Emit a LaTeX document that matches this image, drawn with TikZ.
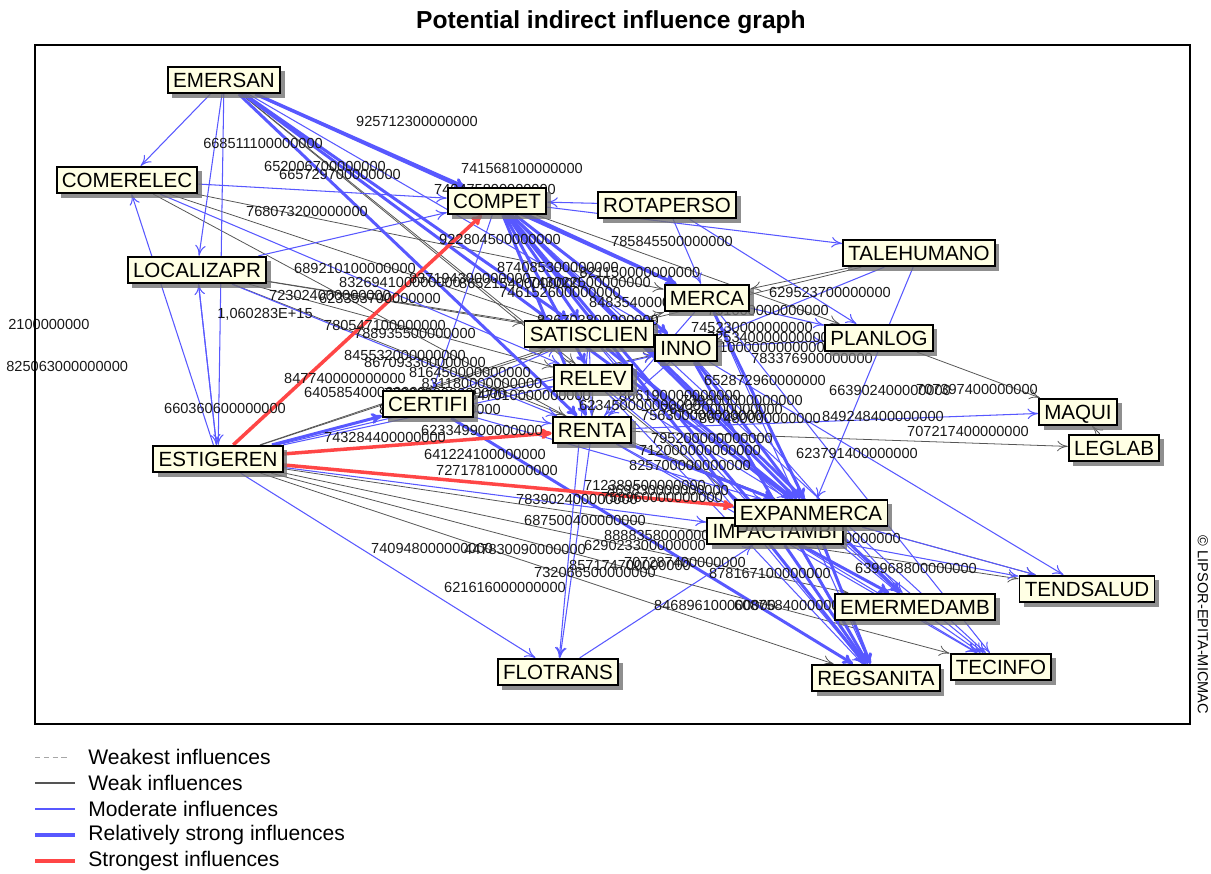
\documentclass[tikz,border=0pt]{standalone}
\usepackage{fontspec}
\setmainfont{Liberation Sans}
\usetikzlibrary{arrows.meta,shadows}
\definecolor{cream}{RGB}{255,255,228}
\definecolor{modblue}{RGB}{88,88,255}
\definecolor{weakgray}{RGB}{85,85,85}
\definecolor{topred}{RGB}{255,70,70}
\newcommand\vfnt{\fontsize{11.7}{13}\selectfont}
\newcommand\numfnt{\fontsize{8.3}{9}\selectfont}
\pgfdeclarelayer{edges}
\pgfdeclarelayer{labels}
\pgfsetlayers{edges,labels,main}
\tikzset{
  vnode/.style={draw=black, line width=1.1pt, fill=cream, inner xsep=3pt, inner ysep=3pt,
    text height=8.6pt, text depth=0.4pt, font=\vfnt,
    drop shadow={shadow xshift=2.6pt, shadow yshift=-2.6pt, fill=black!55, opacity=0.8}},
  num/.style={font=\numfnt, inner sep=0pt, text=black!90},
  tip/.style={-{To[length=6pt,width=6pt]}},
  weak/.style={tip, draw=weakgray, line width=0.45pt},
  mod/.style={tip, draw=modblue, line width=0.6pt},
  strong/.style={tip, draw=modblue, line width=1.7pt},
  top/.style={tip, draw=topred, line width=2pt},
}
\begin{document}
\begin{tikzpicture}[x=0.02cm, y=-0.02cm]
\useasboundingbox (0,0) rectangle (1211,874);

% title and frame
\node[font=\bfseries\fontsize{14}{16}\selectfont] (title) at (611,22) {Potential indirect influence graph};
\draw[line width=1.1pt, black] (35,45) rectangle (1190,724);
\node[rotate=-90, font=\fontsize{8.3}{9}\selectfont] (copy) at (1203,625) {© LIPSOR-EPITA-MICMAC};

% variables
\node[vnode] (EMERSAN)    at (224,80)  {EMERSAN};
\node[vnode] (COMERELEC)  at (127,180) {COMERELEC};
\node[vnode] (LOCALIZAPR) at (197,270) {LOCALIZAPR};
\node[vnode] (COMPET)     at (497,201) {COMPET};
\node[vnode] (ROTAPERSO)  at (667,205) {ROTAPERSO};
\node[vnode] (TALEHUMANO) at (919,253) {TALEHUMANO};
\node[vnode] (MERCA)      at (707,298) {MERCA};
\node[vnode] (SATISCLIEN) at (589,334) {SATISCLIEN};
\node[vnode] (INNO)       at (686,348) {INNO};
\node[vnode] (PLANLOG)    at (879,338) {PLANLOG};
\node[vnode] (RELEV)      at (593,378) {RELEV};
\node[vnode] (CERTIFI)    at (428,404) {CERTIFI};
\node[vnode] (RENTA)      at (592,430) {RENTA};
\node[vnode] (ESTIGEREN)  at (218,459) {ESTIGEREN};
\node[vnode] (MAQUI)      at (1078,412) {MAQUI};
\node[vnode] (LEGLAB)     at (1114,448) {LEGLAB};
\node[vnode] (IMPACTAMBI) at (775,531) {IMPACTAMBI};
\node[vnode] (EXPANMERCA) at (811,513) {EXPANMERCA};
\node[vnode] (TENDSALUD)  at (1087,589) {TENDSALUD};
\node[vnode] (EMERMEDAMB) at (915,607) {EMERMEDAMB};
\node[vnode] (TECINFO)    at (1001,667) {TECINFO};
\node[vnode] (REGSANITA)  at (876,678) {REGSANITA};
\node[vnode] (FLOTRANS)   at (558,672) {FLOTRANS};

% influences
\begin{pgfonlayer}{edges}
\foreach \a/\b in {
  COMERELEC/SATISCLIEN, COMERELEC/RENTA, COMERELEC/MERCA, LOCALIZAPR/SATISCLIEN,
  LOCALIZAPR/EXPANMERCA, LOCALIZAPR/RELEV, EMERSAN/RELEV, EMERSAN/IMPACTAMBI,
  COMPET/PLANLOG, COMPET/MERCA, TALEHUMANO/MERCA, TALEHUMANO/SATISCLIEN,
  PLANLOG/MAQUI, RENTA/LEGLAB, RELEV/RENTA, ESTIGEREN/TECINFO, ESTIGEREN/REGSANITA,
  ESTIGEREN/EMERMEDAMB, ESTIGEREN/TENDSALUD, ESTIGEREN/MERCA, ESTIGEREN/SATISCLIEN,
  EXPANMERCA/TENDSALUD, LEGLAB/MAQUI, CERTIFI/INNO, LOCALIZAPR/INNO}
  \draw[weak] (\a) -- (\b);
\foreach \a/\b in {
  EMERSAN/COMERELEC, EMERSAN/LOCALIZAPR, EMERSAN/ESTIGEREN, EMERSAN/INNO,
  COMERELEC/COMPET, COMERELEC/RELEV, ESTIGEREN/COMERELEC, LOCALIZAPR/COMPET,
  ESTIGEREN/LOCALIZAPR, LOCALIZAPR/ESTIGEREN, LOCALIZAPR/RENTA, ROTAPERSO/COMPET,
  COMPET/TALEHUMANO, COMPET/CERTIFI, COMPET/TECINFO, ROTAPERSO/MERCA, ROTAPERSO/PLANLOG,
  TALEHUMANO/INNO, TALEHUMANO/EXPANMERCA, MERCA/PLANLOG, MERCA/RENTA, MERCA/REGSANITA,
  MERCA/TECINFO, INNO/PLANLOG, SATISCLIEN/RENTA, SATISCLIEN/FLOTRANS, SATISCLIEN/REGSANITA,
  INNO/TENDSALUD, INNO/EMERMEDAMB, RELEV/EXPANMERCA, RELEV/IMPACTAMBI, CERTIFI/EXPANMERCA,
  CERTIFI/RENTA, ESTIGEREN/CERTIFI, CERTIFI/SATISCLIEN, RENTA/MAQUI, RENTA/FLOTRANS,
  RENTA/EMERMEDAMB, RENTA/TECINFO, ESTIGEREN/FLOTRANS, ESTIGEREN/IMPACTAMBI, ESTIGEREN/INNO,
  ESTIGEREN/RELEV, EXPANMERCA/TENDSALUD, EXPANMERCA/EMERMEDAMB, EXPANMERCA/TECINFO,
  IMPACTAMBI/TENDSALUD, FLOTRANS/IMPACTAMBI, IMPACTAMBI/TECINFO, EMERMEDAMB/TECINFO,
  SATISCLIEN/IMPACTAMBI, RELEV/REGSANITA, INNO/RENTA, MERCA/EXPANMERCA, SATISCLIEN/EMERMEDAMB}
  \draw[mod] (\a) -- (\b);
\foreach \a/\b in {
  EMERSAN/COMPET, EMERSAN/MERCA, EMERSAN/SATISCLIEN, EMERSAN/RENTA, EMERSAN/EXPANMERCA,
  COMPET/MERCA, COMPET/SATISCLIEN, COMPET/INNO, COMPET/RELEV, COMPET/RENTA,
  COMPET/EXPANMERCA, COMPET/IMPACTAMBI, COMPET/EMERMEDAMB, COMPET/REGSANITA,
  MERCA/EXPANMERCA, SATISCLIEN/EXPANMERCA, INNO/EXPANMERCA, INNO/REGSANITA,
  CERTIFI/REGSANITA, RENTA/EXPANMERCA, EXPANMERCA/REGSANITA, IMPACTAMBI/REGSANITA,
  IMPACTAMBI/EMERMEDAMB, ESTIGEREN/CERTIFI}
  \draw[strong] (\a) -- (\b);
\draw[top] (ESTIGEREN) -- (COMPET);
\draw[top] (ESTIGEREN) -- (RENTA);
\draw[top] (ESTIGEREN) -- (EXPANMERCA);
\end{pgfonlayer}

% influence values
\begin{pgfonlayer}{labels}
\foreach \t/\x/\y [count=\i] in {
  925712300000000/417/121, 668511100000000/263/143, 652006700000000/325/166,
  665729700000000/340/174, 741568100000000/522/168, 740475800000000/495/189,
  768073200000000/307/211, 922804500000000/500/239, 785845500000000/672/241,
  874085300000000/558/267, 689210100000000/355/268, 723024000000000/330/295,
  1{,}060283E+15/265/314, 780547100000000/385/325, 847740000000000/345/378,
  640585400000000/365/392, 660360600000000/225/408, 743284400000000/385/437,
  623349900000000/482/430, 641224100000000/485/454, 727178100000000/497/470,
  783902400000000/577/499, 712389500000000/645/485, 687500400000000/585/520,
  888835800000000/665/535, 629023300000000/645/545, 740948000000000/432/548,
  447830090000000/525/549, 621616000000000/505/587, 732066500000000/595/572,
  857174700000000/630/565, 707287400000000/685/562, 878167100000000/770/573,
  846896100000000/715/605, 608758400000000/795/605, 639968800000000/916/568,
  638600000000000/840/538, 623791400000000/857/453, 849248400000000/883/416,
  707217400000000/968/431, 663902400000000/890/390, 707397400000000/977/389,
  783376900000000/812/358, 629523700000000/830/292, 751060000000000/768/310,
  652872960000000/765/380, 848354000000000/650/302,
  837194300000000/470/278, 865215400000000/520/283, 743022500000000/590/282,
  623353700000000/380/298, 832694100000000/400/282, 746152600000000/560/292,
  821150000000000/640/272, 826703800000000/598/320, 788935500000000/415/333,
  845532000000000/405/355, 867093300000000/425/362, 816450000000000/470/372,
  831180000000000/482/383, 779300000000000/445/393, 815000000000000/440/409,
  745230000000000/752/327, 725340000000000/768/337, 710000000000000/772/347,
  756300000000000/702/415, 739800000000000/742/400, 764320000000000/722/409,
  867480000000000/760/418, 795200000000000/712/438, 712000000000000/700/450,
  825700000000000/690/465, 869830000000000/668/490, 758960000000000/662/497,
  623450000000000/640/405, 866190000000000/680/395, 847010000000000/530/395}
  \node[num] (v\i) at (\x,\y) {\t};
\node[num, anchor=west] (vl1) at (8,324) {2100000000};
\node[num, anchor=west] (vl2) at (6,366) {825063000000000};
\end{pgfonlayer}

% legend
\draw[densely dashed, draw=black!35, line width=0.5pt] (35,757) -- (70,757);
\draw[draw=weakgray, line width=0.6pt] (35,783) -- (75,783);
\draw[draw=modblue, line width=0.7pt] (35,809) -- (75,809);
\draw[draw=modblue, line width=1.8pt] (35,835) -- (75,835);
\draw[draw=topred, line width=2pt] (35,861) -- (75,861);
\begin{scope}[every node/.style={anchor=west, font=\fontsize{12}{13}\selectfont, inner sep=0pt}]
\node (lg1) at (88,757) {Weakest influences};
\node (lg2) at (88,783) {Weak influences};
\node (lg3) at (88,809) {Moderate influences};
\node (lg4) at (88,835) {Relatively strong influences};
\node (lg5) at (88,861) {Strongest influences};
\end{scope}
\end{tikzpicture}
\end{document}
